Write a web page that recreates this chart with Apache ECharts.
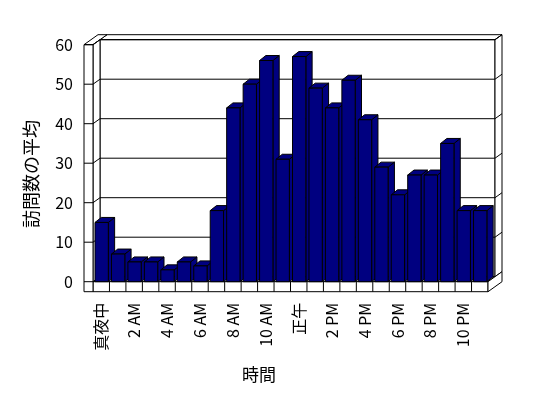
<!DOCTYPE html>
<html>
<head>
<meta charset="utf-8">
<script src="https://cdn.jsdelivr.net/npm/echarts@6/dist/echarts.min.js"></script>
<style>
html,body{margin:0;padding:0;background:#fff;}
#chart{width:548px;height:398px;}
</style>
</head>
<body>
<div id="chart"></div>
<script>
const categories = ['真夜中','1 AM','2 AM','3 AM','4 AM','5 AM','6 AM','7 AM','8 AM','9 AM','10 AM','11 AM',
  '正午','1 PM','2 PM','3 PM','4 PM','5 PM','6 PM','7 PM','8 PM','9 PM','10 PM','11 PM'];
const visits = [15,7,5,5,3,5,4,18,44,50,56,31,57,49,44,51,41,29,22,27,27,35,18,18];
const yTicks = [0,10,20,30,40,50,60];
const yAxisTitle = '訪問数の平均';
const xAxisTitle = '時間';

const FONT = '"Noto Sans CJK JP", "Liberation Sans", sans-serif';
const NAVY = '#000080';
const DX = 7, DY = -5;       // wall depth
const BDX = 6.3, BDY = -5;   // bar depth
const WALL = 9, FLOOR = 10;

const chart = echarts.init(document.getElementById('chart'), null, {renderer:'canvas'});

function frameItem(params, api) {
  const bw = api.size([1, 0])[0];
  const c0 = api.coord([0, 0]);
  const x0 = c0[0] - bw / 2;
  const x1 = api.coord([categories.length - 1, 0])[0] + bw / 2;
  const y0 = c0[1];
  const yT = api.coord([0, yTicks[yTicks.length - 1]])[1];
  const st = {fill: '#fff', stroke: '#000', lineWidth: 1};
  const ln = {stroke: '#000', lineWidth: 1, fill: null};
  const ch = [];
  const poly = (pts) => ch.push({type: 'polygon', shape: {points: pts}, style: st});
  const line = (a, b, c, d) => ch.push({type: 'line', shape: {x1: a, y1: b, x2: c, y2: d}, style: ln});
  poly([[x0 + DX, yT + DY], [x1 + DX, yT + DY], [x1 + 2 * DX, yT + 2 * DY], [x0 + 2 * DX, yT + 2 * DY]]);
  poly([[x0 + DX, yT + DY], [x1 + DX, yT + DY], [x1 + DX, y0 + DY], [x0 + DX, y0 + DY]]);
  poly([[x1 + DX, yT + DY], [x1 + 2 * DX, yT + 2 * DY], [x1 + 2 * DX, y0 + 2 * DY], [x1 + DX, y0 + DY]]);
  poly([[x0, y0], [x1, y0], [x1 + DX, y0 + DY], [x0 + DX, y0 + DY]]);
  poly([[x0, y0], [x1, y0], [x1, y0 + FLOOR], [x0, y0 + FLOOR]]);
  poly([[x1, y0], [x1 + 2 * DX, y0 + 2 * DY], [x1 + 2 * DX, y0 + FLOOR + 2 * DY], [x1, y0 + FLOOR]]);
  poly([[x0 - WALL, yT], [x0, yT], [x0 + 2 * DX, yT + 2 * DY], [x0 - WALL + 2 * DX, yT + 2 * DY]]);
  poly([[x0, yT], [x0 + DX, yT + DY], [x0 + DX, y0 + DY], [x0, y0]]);
  poly([[x0 - WALL, yT], [x0, yT], [x0, y0 + FLOOR], [x0 - WALL, y0 + FLOOR]]);
  yTicks.forEach(v => {
    const y = api.coord([0, v])[1];
    if (v > 0) {
      line(x0, y, x0 + DX, y + DY);
      line(x0 + DX, y + DY, x1 + DX, y + DY);
      line(x1 + DX, y + DY, x1 + 2 * DX, y + 2 * DY);
    }
    line(x0 - WALL, y, x0, y);
  });
  for (let i = 1; i < categories.length; i++) {
    const x = x0 + i * bw;
    line(x, y0, x, y0 + FLOOR);
  }
  return {type: 'group', children: ch};
}

function barItem(params, api) {
  const i = api.value(0);
  const v = api.value(1);
  const bw = api.size([1, 0])[0];
  const top = api.coord([i, v]);
  const base = api.coord([i, 0]);
  const xl = top[0] - bw / 2 + 2;
  const xr = xl + bw * 0.81;
  const yt = top[1], yb = base[1];
  const st = {fill: NAVY, stroke: '#000', lineWidth: 1};
  return {type: 'group', children: [
    {type: 'polygon', shape: {points: [[xr, yt], [xr + BDX, yt + BDY], [xr + BDX, yb + BDY], [xr, yb]]}, style: st},
    {type: 'polygon', shape: {points: [[xl, yt], [xr, yt], [xr + BDX, yt + BDY], [xl + BDX, yt + BDY]]}, style: st},
    {type: 'rect', shape: {x: xl, y: yt, width: xr - xl, height: yb - yt}, style: st}
  ]};
}

chart.setOption({
  animation: false,
  backgroundColor: '#fff',
  grid: {left: 93, right: 60, top: 44.7, bottom: 116.3},
  xAxis: {
    type: 'category', data: categories,
    axisLine: {show: false}, axisTick: {show: false},
    axisLabel: {interval: 1, rotate: 90, margin: 21, fontSize: 16, color: '#000', fontFamily: FONT}
  },
  yAxis: {
    type: 'value', min: 0, max: 60, interval: 10,
    axisLine: {show: false}, axisTick: {show: false}, splitLine: {show: false},
    axisLabel: {margin: 20, fontSize: 16, color: '#000', fontFamily: FONT}
  },
  graphic: [
    {type: 'text', x: 31, y: 174, rotation: Math.PI / 2,
     style: {text: yAxisTitle, fontSize: 18, fontFamily: FONT, fill: '#000', textAlign: 'center', textVerticalAlign: 'middle'}},
    {type: 'text', x: 259, y: 375,
     style: {text: xAxisTitle, fontSize: 17, fontFamily: FONT, fill: '#000', textAlign: 'center', textVerticalAlign: 'middle'}}
  ],
  series: [
    {type: 'custom', renderItem: frameItem, data: [[0, 0]], z: 1, silent: true},
    {type: 'custom', renderItem: barItem, data: visits.map((v, i) => [i, v]), z: 2,
     encode: {x: 0, y: 1}}
  ]
});
</script>
</body>
</html>
